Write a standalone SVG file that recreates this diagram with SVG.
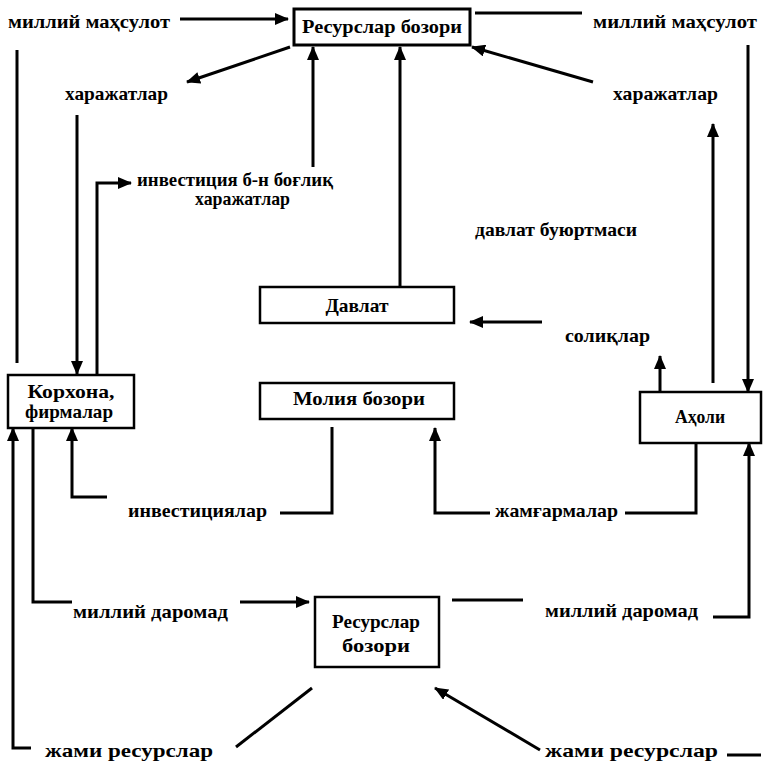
<svg xmlns="http://www.w3.org/2000/svg" width="763" height="761" viewBox="0 0 763 761">
<defs>
<style>
text{font-family:"Liberation Serif","Times New Roman",serif;font-weight:bold;font-size:19px;fill:#000}
.c{text-anchor:middle}
.box{fill:#fff;stroke:#000;stroke-width:2.5}
.ln{fill:none;stroke:#000;stroke-width:3}
</style>
<marker id="ah" markerUnits="userSpaceOnUse" markerWidth="14" markerHeight="12" refX="13" refY="6" orient="auto">
<path d="M0,0 L14,6 L0,12 z" fill="#000"/>
</marker>
</defs>
<rect width="763" height="761" fill="#fff"/>

<g id="connectors">
<line class="ln" x1="180" y1="19" x2="288" y2="19" marker-end="url(#ah)"/>
<line class="ln" x1="475" y1="13" x2="582" y2="13"/>
<line class="ln" x1="17" y1="50" x2="17" y2="363"/>
<line class="ln" x1="290" y1="47" x2="187" y2="82" marker-end="url(#ah)"/>
<line class="ln" x1="77" y1="115" x2="77" y2="374" marker-end="url(#ah)"/>
<polyline class="ln" points="97,375 97,183 131,183" marker-end="url(#ah)"/>
<line class="ln" x1="313" y1="167" x2="313" y2="47" marker-end="url(#ah)"/>
<line class="ln" x1="400" y1="287" x2="400" y2="47" marker-end="url(#ah)"/>
<line class="ln" x1="593" y1="82" x2="472" y2="47" marker-end="url(#ah)"/>
<line class="ln" x1="713" y1="383" x2="713" y2="124" marker-end="url(#ah)"/>
<line class="ln" x1="748" y1="45" x2="748" y2="392" marker-end="url(#ah)"/>
<line class="ln" x1="660" y1="392" x2="660" y2="356" marker-end="url(#ah)"/>
<line class="ln" x1="542" y1="322" x2="470" y2="322" marker-end="url(#ah)"/>
<polyline class="ln" points="31,748 13,748 13,428" marker-end="url(#ah)"/>
<polyline class="ln" points="33,428 33,602 72,602"/>
<polyline class="ln" points="107,497 72,497 72,428" marker-end="url(#ah)"/>
<polyline class="ln" points="280,513 332,513 332,427"/>
<polyline class="ln" points="490,513 435,513 435,428" marker-end="url(#ah)"/>
<polyline class="ln" points="625,513 696,513 696,443"/>
<polyline class="ln" points="713,617 749,617 749,443" marker-end="url(#ah)"/>
<line class="ln" x1="240" y1="602" x2="309" y2="602" marker-end="url(#ah)"/>
<line class="ln" x1="452" y1="600" x2="523" y2="600"/>
<line class="ln" x1="236" y1="747" x2="312" y2="688"/>
<line class="ln" x1="540" y1="750" x2="435" y2="688" marker-end="url(#ah)"/>
<line class="ln" x1="727" y1="755" x2="761" y2="755"/>
</g>

<g id="node-top-market">
<rect class="box" x="294" y="9" width="176" height="36" style="stroke-width:3"/>
<text class="c" x="382" y="33" textLength="160" lengthAdjust="spacingAndGlyphs">Ресурслар бозори</text>
</g>
<g id="node-davlat">
<rect class="box" x="260" y="287" width="194" height="36"/>
<text class="c" x="357" y="312" textLength="63" lengthAdjust="spacingAndGlyphs">Давлат</text>
</g>
<g id="node-moliya">
<rect class="box" x="260" y="383" width="194" height="36"/>
<text class="c" x="359" y="405" textLength="132" lengthAdjust="spacingAndGlyphs">Молия бозори</text>
</g>
<g id="node-korxona">
<rect class="box" x="8" y="375" width="126" height="53"/>
<text class="c" x="71" y="398" textLength="87" lengthAdjust="spacingAndGlyphs">Корхона,</text>
<text class="c" x="69" y="418" textLength="88" lengthAdjust="spacingAndGlyphs">фирмалар</text>
</g>
<g id="node-aholi">
<rect class="box" x="640" y="392" width="121" height="51"/>
<text class="c" x="700" y="423" textLength="50" lengthAdjust="spacingAndGlyphs">Аҳоли</text>
</g>
<g id="node-bottom-market">
<rect class="box" x="315" y="597" width="124" height="70"/>
<text class="c" x="376" y="628" textLength="88" lengthAdjust="spacingAndGlyphs">Ресурслар</text>
<text class="c" x="376" y="652" textLength="68" lengthAdjust="spacingAndGlyphs">бозори</text>
</g>

<g id="labels">
<text x="8" y="28" textLength="162" lengthAdjust="spacingAndGlyphs">миллий маҳсулот</text>
<text x="593" y="28" textLength="164" lengthAdjust="spacingAndGlyphs">миллий маҳсулот</text>
<text x="65" y="100" textLength="103" lengthAdjust="spacingAndGlyphs">харажатлар</text>
<text x="613" y="100" textLength="105" lengthAdjust="spacingAndGlyphs">харажатлар</text>
<text x="137" y="186" textLength="196" lengthAdjust="spacingAndGlyphs">инвестиция б-н боғлиқ</text>
<text x="195" y="205" textLength="95" lengthAdjust="spacingAndGlyphs">харажатлар</text>
<text x="475" y="236" textLength="162" lengthAdjust="spacingAndGlyphs">давлат буюртмаси</text>
<text x="565" y="342" textLength="85" lengthAdjust="spacingAndGlyphs">солиқлар</text>
<text x="128" y="517" textLength="139" lengthAdjust="spacingAndGlyphs">инвестициялар</text>
<text x="495" y="517" textLength="123" lengthAdjust="spacingAndGlyphs">жамғармалар</text>
<text x="73" y="618" textLength="155" lengthAdjust="spacingAndGlyphs">миллий даромад</text>
<text x="545" y="617" textLength="153" lengthAdjust="spacingAndGlyphs">миллий даромад</text>
<text x="45" y="757" textLength="168" lengthAdjust="spacingAndGlyphs">жами ресурслар</text>
<text x="545" y="757" textLength="173" lengthAdjust="spacingAndGlyphs">жами ресурслар</text>
</g>
</svg>
